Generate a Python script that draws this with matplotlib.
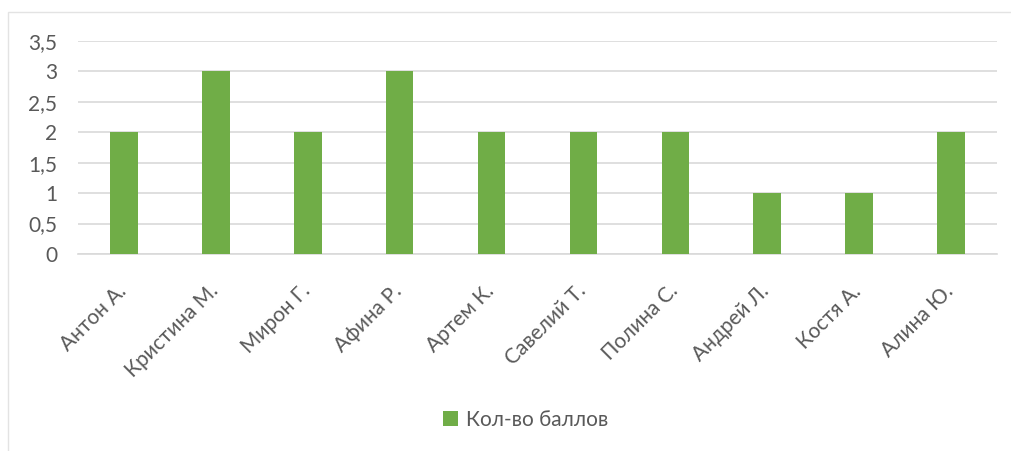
import matplotlib
matplotlib.use("Agg")
import matplotlib.pyplot as plt
from matplotlib.patches import Rectangle
from matplotlib.ticker import FuncFormatter
from matplotlib.transforms import ScaledTranslation

names = ["Антон А.", "Кристина М.", "Мирон Г.", "Афина Р.", "Артем К.",
         "Савелий Т.", "Полина С.", "Андрей Л.", "Костя А.", "Алина Ю."]
scores = [2, 3, 2, 3, 2, 2, 2, 1, 1, 2]
series_name = "Кол-во баллов"
y_ticks = [0, 0.5, 1, 1.5, 2, 2.5, 3, 3.5]

plt.rcParams["font.family"] = ["Lato", "DejaVu Sans"]
text_color = "#595959"
grid_color = "#D9D9D9"
bar_color = "#70AD47"

W, H = 1012, 451
fig = plt.figure(figsize=(W / 100, H / 100), dpi=100)

# chart frame
fig.add_artist(Rectangle((8 / W, -0.01), 1.1, (H - 12) / H + 0.01,
                         transform=fig.transFigure, fill=False,
                         edgecolor="#E3E3E3", linewidth=1))

ax = fig.add_axes([78 / W, 1 - 254 / H, (997 - 78) / W, (254 - 41) / H])
x = list(range(len(names)))
ax.bar(x, scores, width=0.30, color=bar_color, zorder=3, label=series_name)
ax.set_xlim(-0.5, len(names) - 0.5)
ax.set_ylim(0, 3.5)
ax.set_yticks(y_ticks)
ax.yaxis.set_major_formatter(FuncFormatter(lambda v, p: f"{v:g}".replace(".", ",")))
ax.grid(axis="y", color=grid_color, linewidth=1.2, zorder=0)
for s in ["top", "right", "left"]:
    ax.spines[s].set_visible(False)
ax.spines["bottom"].set_color(grid_color)
ax.spines["bottom"].set_linewidth(1.2)
ax.tick_params(axis="y", length=0, pad=15, labelsize=15, labelcolor=text_color)
ax.tick_params(axis="x", length=0, pad=18, labelsize=15, labelcolor=text_color)
ax.set_xticks(x)
ax.set_xticklabels(names, rotation=45, ha="right", va="top", rotation_mode="anchor")
shift = ScaledTranslation(-8 / 100, -2 / 100, fig.dpi_scale_trans)
for lbl in ax.get_xticklabels():
    lbl.set_transform(lbl.get_transform() + shift)

fig.legend(loc="center", bbox_to_anchor=(526 / W, 1 - 420 / H), frameon=False,
           fontsize=15, labelcolor=text_color, handlelength=0.7, handleheight=0.7,
           handletextpad=0.4)

fig.savefig("out.png", dpi=100, facecolor="white")
